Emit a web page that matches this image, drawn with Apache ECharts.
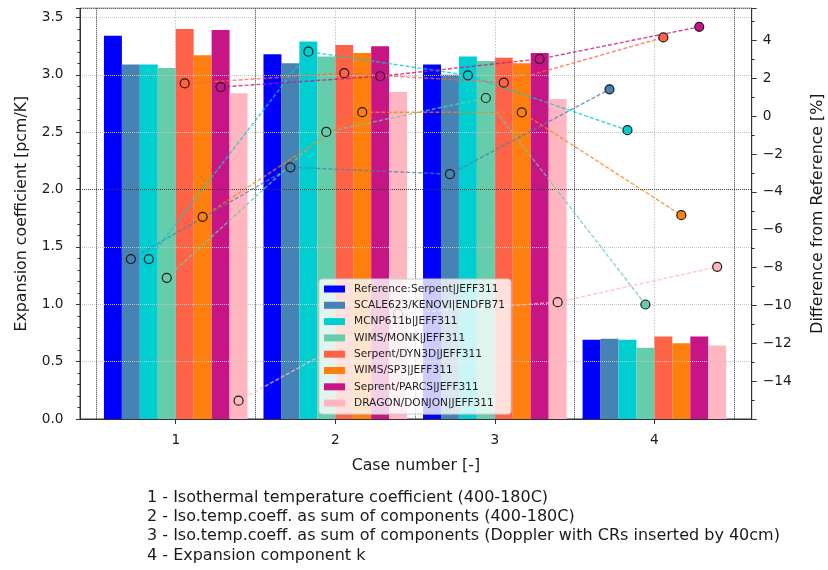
<!DOCTYPE html>
<html>
<head>
<meta charset="utf-8">
<script src="https://cdn.jsdelivr.net/npm/echarts@6/dist/echarts.min.js"></script>
<style>
  html, body { margin: 0; padding: 0; background: #fff; }
  #chart { width: 828px; height: 570px; }
</style>
</head>
<body>
<div id="chart"></div>
<script>
// Case numbers on the x axis and the tick values of each axis
const cases = [1, 2, 3, 4];
const caseTicks = [1, 2, 3, 4];
const halfTicks = [0.5, 1.5, 2.5, 3.5, 4.5];
const coeffTicks = [0, 0.5, 1, 1.5, 2, 2.5, 3, 3.5];
const diffTicks = [-14, -12, -10, -8, -6, -4, -2, 0, 2, 4];

// Code / library combinations
const codes = [
  'Reference:Serpent|JEFF311',
  'SCALE623/KENOVI|ENDFB71',
  'MCNP611b|JEFF311',
  'WIMS/MONK|JEFF311',
  'Serpent/DYN3D|JEFF311',
  'WIMS/SP3|JEFF311',
  'Seprent/PARCS|JEFF311',
  'DRAGON/DONJON|JEFF311'
];

// Expansion coefficient per case [pcm/K]
const coefReference = [3.34, 3.18, 3.09, 0.69];
const coefScale     = [3.09, 3.10, 3.00, 0.70];
const coefMcnp      = [3.09, 3.29, 3.16, 0.69];
const coefMonk      = [3.06, 3.16, 3.12, 0.62];
const coefDyn3d     = [3.40, 3.26, 3.15, 0.72];
const coefSp3       = [3.17, 3.19, 3.10, 0.66];
const coefParcs     = [3.39, 3.25, 3.19, 0.72];
const coefDragon    = [2.84, 2.85, 2.79, 0.64];

// Difference from the reference solution per case [%]
const diffScale  = [-7.55, -2.70, -3.06, 1.42];
const diffMcnp   = [-7.55, 3.41, 2.16, -0.74];
const diffMonk   = [-8.54, -0.83, 0.96, -9.95];
const diffDyn3d  = [1.73, 2.27, 1.77, 4.16];
const diffSp3    = [-5.32, 0.21, 0.20, -5.23];
const diffParcs  = [1.54, 2.11, 3.02, 4.72];
const diffDragon = [-15.03, -10.43, -9.83, -7.96];

// Case descriptions printed under the plot
const caseNotes = [
  '1 - Isothermal temperature coefficient (400-180C)',
  '2 - Iso.temp.coeff. as sum of components (400-180C)',
  '3 - Iso.temp.coeff. as sum of components (Doppler with CRs inserted by 40cm)',
  '4 - Expansion component k'
];

const coefSets = [coefReference, coefScale, coefMcnp, coefMonk, coefDyn3d, coefSp3, coefParcs, coefDragon];
// index 0 (reference) has no difference curve
const diffSets = [null, diffScale, diffMcnp, diffMonk, diffDyn3d, diffSp3, diffParcs, diffDragon];

const palette = ['#0000ff', '#4682b4', '#00ced1', '#66cdaa', '#ff6347', '#ff7f0e', '#c71585', '#ffb6c1'];
const FONT = 'DejaVu Sans';
const BAR_FRACTION = 0.1125;   // width of one bar in case-number units

const minus = v => (v < 0 ? '\u2212' + Math.abs(v) : String(v));

const series = [];
codes.forEach((name, i) => {
  series.push({
    type: 'bar',
    name: name,
    xAxisIndex: 0,
    yAxisIndex: 0,
    data: cases.map((c, k) => [c, coefSets[i][k]]),
    barWidth: (BAR_FRACTION * 100) + '%',
    barGap: '0%',
    itemStyle: { color: palette[i] },
    z: 2,
    silent: true
  });
});
codes.forEach((name, i) => {
  if (!diffSets[i]) return;
  const shift = (i - (codes.length - 1) / 2) * BAR_FRACTION;
  series.push({
    type: 'line',
    name: name + ' \u0394%',
    xAxisIndex: 0,
    yAxisIndex: 1,
    data: cases.map((c, k) => [c + shift, diffSets[i][k]]),
    symbol: 'circle',
    symbolSize: 9,
    showAllSymbol: true,
    lineStyle: { color: palette[i], width: 1.4, type: [4, 2], opacity: 0.8 },
    itemStyle: { color: palette[i], borderColor: '#1a1a1a', borderWidth: 1.2 },
    emphasis: { disabled: true },
    z: 6,
    silent: true
  });
});

const chart = echarts.init(document.getElementById('chart'), null, { renderer: 'canvas' });
chart.setOption({
  animation: false,
  backgroundColor: '#fff',
  textStyle: { fontFamily: FONT },
  grid: {
    left: 80, right: 76.3, top: 8.3, bottom: 151,
    show: true, borderColor: '#333', borderWidth: 1, backgroundColor: 'transparent',
    containLabel: false, outerBoundsMode: 'none'
  },
  legend: {
    data: codes,
    orient: 'vertical',
    left: 319, top: 279,
    icon: 'rect',
    itemWidth: 21, itemHeight: 7, itemGap: 4.3,
    padding: [4, 6, 5, 5],
    backgroundColor: 'rgba(255,255,255,0.8)',
    borderColor: '#cccccc', borderWidth: 1, borderRadius: 3,
    selectedMode: false,
    textStyle: { fontFamily: FONT, fontSize: 10.6, color: '#1a1a1a', lineHeight: 12, padding: [0, 0, 0, 4] },
    z: 20
  },
  xAxis: [
    {
      type: 'value', min: 0.4, max: 4.61, position: 'bottom', z: 5,
      name: 'Case number [-]', nameLocation: 'middle', nameGap: 39, nameMoveOverlap: false,
      nameTextStyle: { fontFamily: FONT, fontSize: 15.8, color: '#1a1a1a' },
      axisLine: { show: true, onZero: false, lineStyle: { color: '#333', width: 1 } },
      axisTick: { show: true, length: 5, customValues: caseTicks, lineStyle: { color: '#333' } },
      axisLabel: { customValues: caseTicks, margin: 14, fontFamily: FONT, fontSize: 13.7, color: '#1a1a1a' },
      splitLine: { show: true, lineStyle: { color: '#a8a8a8', width: 1, type: [1, 2] } }
    },
    {
      type: 'value', min: 0.4, max: 4.61, position: 'bottom', z: 5,
      axisLine: { show: false },
      axisTick: { show: false, customValues: halfTicks },
      axisLabel: { show: false },
      splitLine: { show: true, lineStyle: { color: '#3a3a3a', width: 1, type: [1, 1] } }
    }
  ],
  yAxis: [
    {
      type: 'value', min: 0, max: 3.58, interval: 0.5, position: 'left', z: 5,
      name: 'Expansion coefficient [pcm/K]', nameLocation: 'middle', nameRotate: 90, nameGap: 50,
      nameMoveOverlap: false,
      nameTextStyle: { fontFamily: FONT, fontSize: 15.8, color: '#1a1a1a' },
      axisLine: { show: true, onZero: false, lineStyle: { color: '#333', width: 1 } },
      axisTick: { show: true, length: 4, lineStyle: { color: '#333' } },
      minorTick: { show: true, splitNumber: 5, length: 2.5, lineStyle: { color: '#333' } },
      axisLabel: {
        customValues: coeffTicks, margin: 16.5,
        formatter: v => v.toFixed(1),
        fontFamily: FONT, fontSize: 13.7, color: '#1a1a1a'
      },
      splitLine: {
        show: true,
        lineStyle: {
          width: 1, type: [1, 1],
          color: ['#c4c4c4', '#c4c4c4', '#c4c4c4', '#c4c4c4', '#3a3a3a', '#c4c4c4', '#c4c4c4', '#c4c4c4', '#c4c4c4']
        }
      }
    },
    {
      type: 'value', min: -16, max: 5.7, interval: 2, position: 'right', z: 5,
      name: 'Difference from Reference [%]', nameLocation: 'middle', nameRotate: 90, nameGap: 58,
      nameMoveOverlap: false,
      nameTextStyle: { fontFamily: FONT, fontSize: 15.8, color: '#1a1a1a' },
      axisLine: { show: true, onZero: false, lineStyle: { color: '#333', width: 1 } },
      axisTick: { show: true, length: 5, lineStyle: { color: '#333' } },
      minorTick: { show: true, splitNumber: 2, length: 3, lineStyle: { color: '#333' } },
      axisLabel: {
        customValues: diffTicks, margin: 11,
        formatter: minus,
        fontFamily: FONT, fontSize: 13.7, color: '#1a1a1a'
      },
      splitLine: { show: false }
    }
  ],
  graphic: [
    {
      type: 'text', left: 147, top: 488,
      style: {
        text: caseNotes.join('\n'),
        fontFamily: FONT, fontSize: 16, lineHeight: 19.3, fill: '#1a1a1a'
      }
    }
  ],
  series: series
});
</script>
</body>
</html>
